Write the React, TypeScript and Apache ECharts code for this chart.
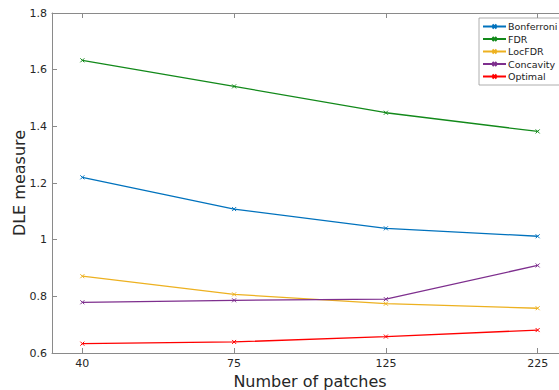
import React, { useEffect, useRef } from "react";
import * as echarts from "echarts";

const categories = ["40", "75", "125", "225"];
const seriesNames = ["Bonferroni", "FDR", "LocFDR", "Concavity", "Optimal"];
const bonferroni = [1.22, 1.108, 1.04, 1.012];
const fdr = [1.633, 1.541, 1.448, 1.382];
const locfdr = [0.871, 0.807, 0.774, 0.758];
const concavity = [0.779, 0.786, 0.79, 0.909];
const optimal = [0.633, 0.639, 0.658, 0.681];
const colors = ["#0072BD", "#12891A", "#EDB120", "#7E2F8E", "#FF0000"];

const FONT = "DejaVu Sans";

export default function App() {
  const ref = useRef<HTMLDivElement>(null);
  useEffect(() => {
    if (!ref.current) return;
    const chart = echarts.init(ref.current, undefined, { renderer: "svg" });
    const values = [bonferroni, fdr, locfdr, concavity, optimal];
    const idx = categories.map((_, i) => i + 1);
    const series = seriesNames.map((name, s) => ({
      name,
      type: "line",
      data: values[s].map((v, i) => [idx[i], v]),
      symbol: "path://M0,0L10,10M10,0L0,10",
      symbolSize: 4,
      showSymbol: true,
      lineStyle: { color: colors[s], width: 1.3 },
      itemStyle: { color: colors[s], borderColor: colors[s], borderWidth: 1 },
      xAxisIndex: 0,
      yAxisIndex: 0,
    }));
    const labelFmt = (v: number) => {
      const i = Math.round(v) - 1;
      return categories[i] ?? "";
    };
    chart.setOption({
      animation: false,
      color: colors,
      grid: { left: 52, top: 13, right: -9, bottom: 37, containLabel: false, outerBoundsMode: "none" },
      legend: {
        orient: "vertical",
        left: 479,
        top: 18,
        backgroundColor: "#ffffff",
        borderColor: "#999999",
        borderWidth: 0.8,
        borderRadius: 0,
        padding: [3, 3, 3, 3],
        itemWidth: 23,
        itemHeight: 5,
        itemGap: 1.5,
        textStyle: { fontFamily: FONT, fontSize: 9.5, lineHeight: 11, color: "#222", padding: [0, 0, 0, -3] },
        data: seriesNames,
      },
      xAxis: [
        {
          type: "value",
          min: 0.8,
          max: 4.2,
          position: "bottom",
          name: "Number of patches",
          nameLocation: "middle",
          nameGap: 20,
          nameMoveOverlap: false,
          nameTextStyle: { fontFamily: FONT, fontSize: 16, color: "#262626" },
          axisLine: { show: true, lineStyle: { color: "#8a8a8a", width: 1 } },
          axisTick: { show: true, inside: true, length: 5, customValues: idx, lineStyle: { color: "#8a8a8a" } },
          axisLabel: {
            customValues: idx,
            formatter: labelFmt,
            fontFamily: FONT,
            fontSize: 11,
            color: "#262626",
            margin: 5,
          },
          splitLine: { show: false },
        },
        {
          type: "value",
          min: 0.8,
          max: 4.2,
          position: "top",
          axisLine: { show: true, lineStyle: { color: "#8a8a8a", width: 1 } },
          axisTick: { show: true, inside: true, length: 5, customValues: idx, lineStyle: { color: "#8a8a8a" } },
          axisLabel: { show: false },
          splitLine: { show: false },
        },
      ],
      yAxis: [
        {
          type: "value",
          min: 0.6,
          max: 1.8,
          interval: 0.2,
          name: "DLE measure",
          nameLocation: "middle",
          nameGap: 25,
          nameMoveOverlap: false,
          nameTextStyle: { fontFamily: FONT, fontSize: 16, color: "#262626" },
          axisLine: { show: true, lineStyle: { color: "#8a8a8a", width: 1 } },
          axisTick: { show: true, inside: true, length: 5, lineStyle: { color: "#8a8a8a" } },
          axisLabel: {
            fontFamily: FONT,
            fontSize: 11,
            color: "#262626",
            margin: 5,
            formatter: (v: number) => String(parseFloat(v.toFixed(1))),
          },
          splitLine: { show: false },
        },
      ],
      series,
    });
    return () => chart.dispose();
  }, []);
  return <div ref={ref} style={{ width: 559, height: 390, position: "absolute", left: 0, top: 0 }} />;
}
